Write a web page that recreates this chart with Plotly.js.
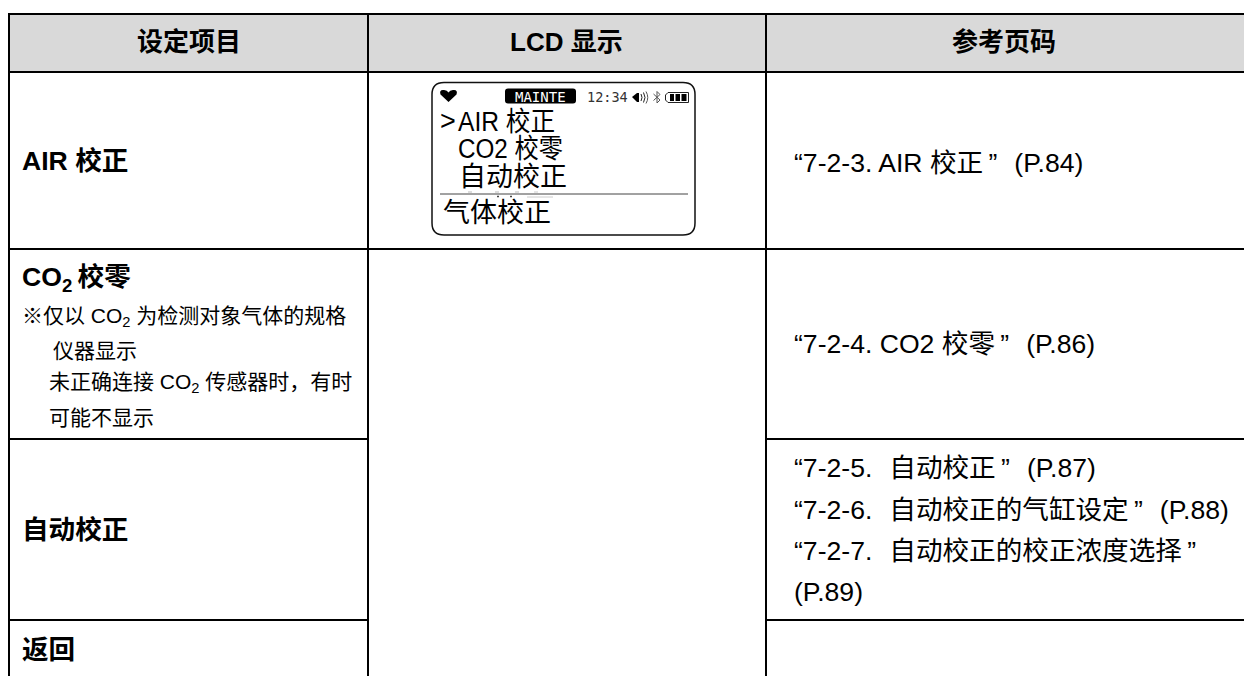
<!DOCTYPE html>
<html><head><meta charset="utf-8">
<script src="https://cdn.plot.ly/plotly-3.0.1.min.js"></script>
<style>html,body{margin:0;padding:0;background:#fff}#c{width:1244px;height:676px}</style></head>
<body><div id="c"></div>
<script>
// ---- content ----
const headers = ["设定项目", "LCD 显示", "参考页码"];
const itemTitles = ["AIR 校正", "CO<sub>2</sub>\u2009校零", "自动校正", "返回"];
const co2Notes = ["※仅以 CO<sub>2</sub> 为检测对象气体的规格", "仪器显示", "未正确连接 CO<sub>2</sub> 传感器时，有时", "可能不显示"];
const pageRefs = ["“7-2-3. AIR 校正\u2009”  \u200a(P.84)", "“7-2-4. CO2 校零\u2009”  \u200a(P.86)",
  "“7-2-5.  \u200a自动校正\u2009”  \u200a(P.87)", "“7-2-6.  \u200a自动校正的气缸设定\u2009”  \u200a(P.88)", "“7-2-7.  \u200a自动校正的校正浓度选择\u2009”", "(P.89)"];
const lcdMenu = ["AIR 校正", "CO2 校零", "自动校正"];
const lcdCursor = ">";
const lcdTitle = "气体校正";
const lcdMode = "MAINTE";
const lcdClock = "12:34";

// ---- layout ----
const SANS = '"Liberation Sans","Noto Sans CJK SC",sans-serif';
const MONO = '"DejaVu Sans Mono",monospace';
const colX = [9, 368, 766, 1244], rowY = [14, 72, 249, 439, 620];
const BOTTOM = 676;
const ink = "#000";
const BODY = 26.6, NOTE = 21, LCD = 27;
function line(x0,y0,x1,y1,w,c){return {type:"line",x0,y0,x1,y1,line:{color:c||ink,width:w||2},layer:"above"};}
function path(d,fill,lw,lc){return {type:"path",path:d,fillcolor:fill||"rgba(0,0,0,0)",line:{color:lc||ink,width:lw===undefined?1:lw},layer:"above"};}
function txt(text,x,y,size,opt){opt=opt||{};return {text,x,y,xref:"x",yref:"y",showarrow:false,xanchor:opt.anchor||"left",yanchor:"middle",align:"left",
  borderpad:0,borderwidth:0,font:{family:opt.family||SANS,size,color:opt.color||"#000",weight:opt.bold?700:400}};}

const shapes = [
  {type:"rect",x0:colX[0],x1:colX[3],y0:rowY[0],y1:rowY[1],fillcolor:"#d9d9d9",line:{width:0},layer:"below"},
  line(colX[0],rowY[0],colX[3],rowY[0]),
  line(colX[0],rowY[1],colX[3],rowY[1]),
  line(colX[0],rowY[2],colX[3],rowY[2]),
  line(colX[0],rowY[3],colX[1],rowY[3]), line(colX[2],rowY[3],colX[3],rowY[3]),
  line(colX[0],rowY[4],colX[1],rowY[4]), line(colX[2],rowY[4],colX[3],rowY[4]),
  line(colX[0],rowY[0]-1,colX[0],BOTTOM), line(colX[1],rowY[0]-1,colX[1],BOTTOM), line(colX[2],rowY[0]-1,colX[2],BOTTOM),
  // LCD frame
  path("M444,82.5 H683 Q695,82.5 695,94.5 V223 Q695,235 683,235 H444 Q432,235 432,223 V94.5 Q432,82.5 444,82.5 Z","#fff",1.5,"#111"),
  line(440,194,688,194,1,"#444"),
  // faint scan residue around the LCD divider
  line(527,197,553,197,1,"#ccc"), line(468,192,472,192,1,"#bbb"), line(495,192,499,192,1,"#bbb"), line(515,192,519,192,1,"#bbb"), line(534,192,538,192,1,"#ccc"),
  line(497,196.5,499,196.5,1.5,"#444"), line(510,196.5,512,196.5,1.5,"#444"),
  // mode pill
  path("M508,88.5 H573 Q576,88.5 576,91.5 V100.5 Q576,103.5 573,103.5 H508 Q505,103.5 505,100.5 V91.5 Q505,88.5 508,88.5 Z","#000",0),
  // heart
  path("M448.5,102 L440.5,94.5 Q439,90 443,90 Q447,89.5 448.5,92.5 Q450,89.5 454,90 Q458,90 456.5,94.5 Z","#000",0),
  // speaker
  path("M632,97 L637,93 L639,93 V102 L637,102 Z","#000",0),
  path("M641,94 Q643,97.5 641,101",null,1,"#222"), path("M643.5,92.5 Q646.5,97.5 643.5,102.5",null,1,"#222"), path("M646,91.5 Q649.5,97.5 646,103.5",null,1,"#555"),
  // bluetooth
  path("M653.5,94 L660,100 L657,103 V91.5 L660,94.5 L653.5,100.5",null,1,"#555"),
  // battery
  path("M668,92.5 H688.5 V102.5 H668 L665.5,100 V95 Z","#fff",1,"#222"),
  path("M670,94 H674 V101 H670 Z","#000",0), path("M675.5,94 H680 V101 H675.5 Z","#000",0), path("M681.5,94 H686.5 V101 H681.5 Z","#000",0),
];

const annotations = [
  txt(headers[0],188.5,42,26,{anchor:"center",bold:true}),
  txt(headers[1],566,42,26,{anchor:"center",bold:true}),
  txt(headers[2],1004,42,26,{anchor:"center",bold:true}),
  txt(itemTitles[0],22,161,BODY,{bold:true}),
  txt(itemTitles[1],22,279,BODY,{bold:true}),
  txt(itemTitles[2],22,530,BODY,{bold:true}),
  txt(itemTitles[3],22,650,BODY,{bold:true}),
  txt(co2Notes[0],22,317,NOTE),
  txt(co2Notes[1],53,350,NOTE),
  txt(co2Notes[2],49,383,NOTE),
  txt(co2Notes[3],49,417,NOTE),
  txt(pageRefs[0],794,163,BODY),
  txt(pageRefs[1],794,344,BODY),
  txt(pageRefs[2],794,468,BODY),
  txt(pageRefs[3],794,510,BODY),
  txt(pageRefs[4],794,551,BODY),
  txt(pageRefs[5],794,592,BODY),
  txt(lcdCursor,440,121,LCD),
];
const lcdFirst = annotations.length;
annotations.push(
  txt(lcdMenu[0],458,122,LCD),
  txt(lcdMenu[1],458,149,LCD),
  txt(lcdMenu[2],459,177,LCD),
  txt(lcdTitle,443,213,LCD),
  txt(lcdMode,540.5,96.5,14,{anchor:"center",family:MONO,color:"#fff"}),
  txt(lcdClock,587,97,13.5,{family:MONO,color:"#333"})
);

// widths of the condensed LCD font lines
const lcdWidths = [97, 105];
Plotly.newPlot("c",[],{
  width:1244,height:676,margin:{l:0,r:0,t:0,b:0,pad:0},
  paper_bgcolor:"#fff",plot_bgcolor:"#fff",showlegend:false,
  xaxis:{range:[0,1244],visible:false,fixedrange:true},
  yaxis:{range:[676,0],visible:false,fixedrange:true},
  shapes,annotations
},{staticPlot:true,displayModeBar:false}).then(function(){
  lcdWidths.forEach(function(w,i){
    const t = document.querySelector('#c .annotation[data-index="'+(lcdFirst+i)+'"] .annotation-text');
    if(t){ t.setAttribute("textLength",w); t.setAttribute("lengthAdjust","spacingAndGlyphs"); }
  });
});
</script></body></html>
